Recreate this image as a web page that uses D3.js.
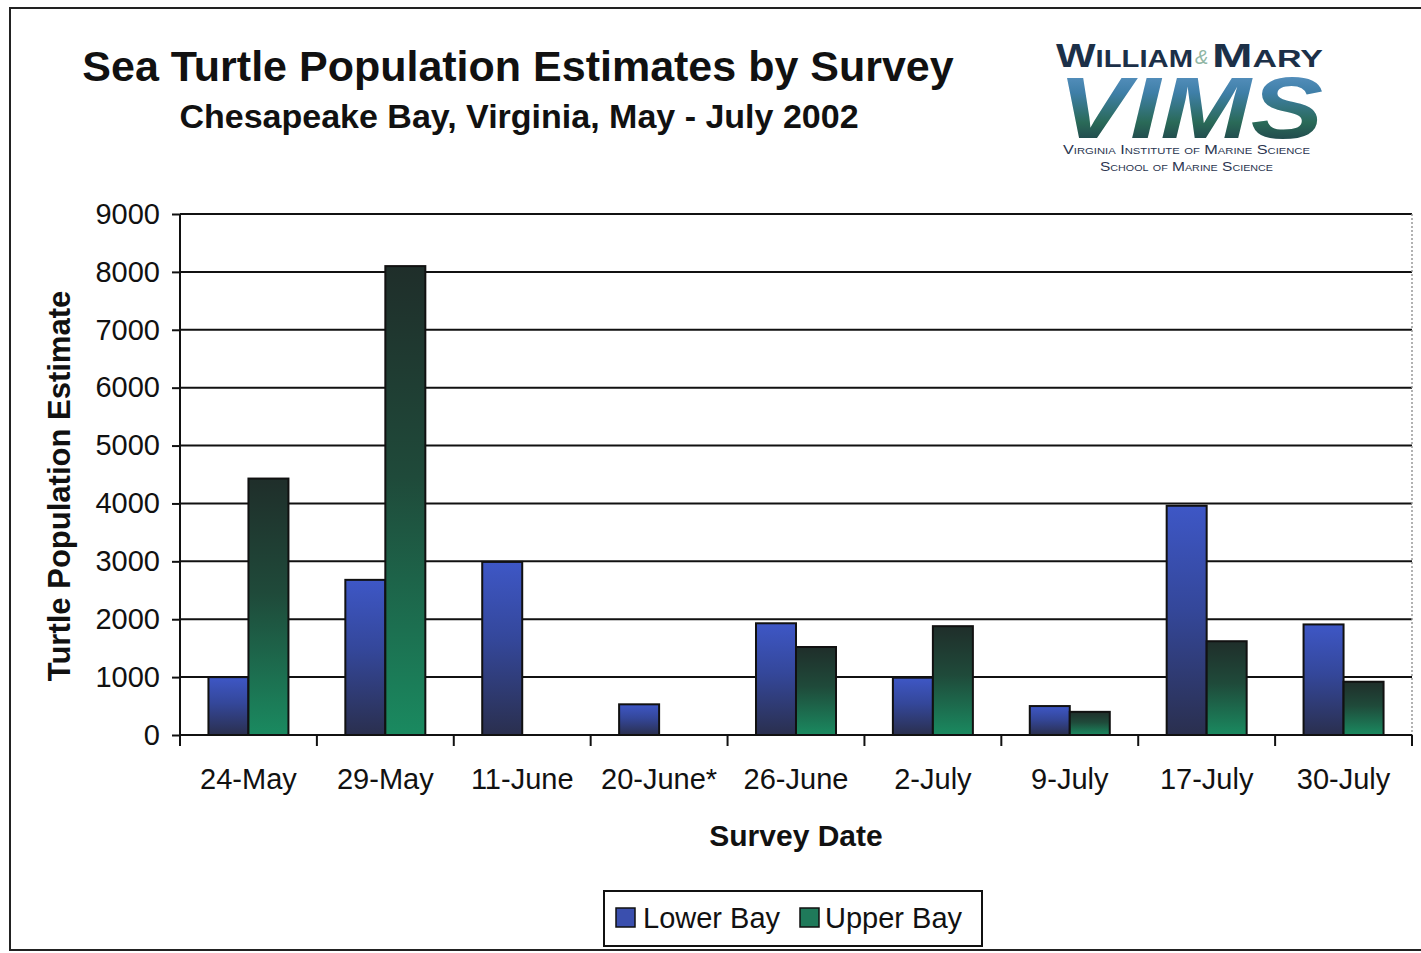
<!DOCTYPE html>
<html>
<head>
<meta charset="utf-8">
<script src="https://cdn.jsdelivr.net/npm/d3@7"></script>
<style>
  html, body { margin: 0; padding: 0; background: #fff; }
  svg { display: block; }
  text { font-family: Arial, "Liberation Sans", Helvetica, sans-serif; fill: #111; }
</style>
</head>
<body>
<svg id="chart" width="1421" height="953"></svg>
<script>
// ---- Data ----
const categories = ["24-May", "29-May", "11-June", "20-June*", "26-June", "2-July", "9-July", "17-July", "30-July"];
const seriesNames = ["Lower Bay", "Upper Bay"];
const lowerBay = [1000, 2680, 2990, 530, 1930, 990, 500, 3960, 1910];
const upperBay = [4430, 8100, 0, 0, 1520, 1880, 400, 1620, 920];
const yTicks = [0, 1000, 2000, 3000, 4000, 5000, 6000, 7000, 8000, 9000];

const titleText = "Sea Turtle Population Estimates by Survey";
const subtitleText = "Chesapeake Bay, Virginia, May - July 2002";
const xTitle = "Survey Date";
const yTitle = "Turtle Population Estimate";

(function () {
// ---- Layout ----
const svg = d3.select("#chart");
const pL = 180, pR = 1412, pT = 214, pB = 735;

const defs = svg.append("defs");
const gLow = defs.append("linearGradient").attr("id", "gLow").attr("x1", 0).attr("y1", 0).attr("x2", 0).attr("y2", 1);
gLow.append("stop").attr("offset", "0%").attr("stop-color", "#3e57c6");
gLow.append("stop").attr("offset", "45%").attr("stop-color", "#34479a");
gLow.append("stop").attr("offset", "100%").attr("stop-color", "#2a2f4e");
const gUp = defs.append("linearGradient").attr("id", "gUp").attr("x1", 0).attr("y1", 0).attr("x2", 0).attr("y2", 1);
gUp.append("stop").attr("offset", "0%").attr("stop-color", "#1f2e2a");
gUp.append("stop").attr("offset", "45%").attr("stop-color", "#1f4a3a");
gUp.append("stop").attr("offset", "100%").attr("stop-color", "#1a8a60");
const gLogo = defs.append("linearGradient").attr("id", "gLogo").attr("x1", 0).attr("y1", 0).attr("x2", 0).attr("y2", 1);
gLogo.append("stop").attr("offset", "0%").attr("stop-color", "#6a9fd0");
gLogo.append("stop").attr("offset", "35%").attr("stop-color", "#3f7fa8");
gLogo.append("stop").attr("offset", "65%").attr("stop-color", "#2a6a58");
gLogo.append("stop").attr("offset", "100%").attr("stop-color", "#1a2c44");

// Outer frame
svg.append("rect").attr("x", 10).attr("y", 8).attr("width", 1430).attr("height", 942)
  .attr("fill", "none").attr("stroke", "#222").attr("stroke-width", 2);

// Titles
svg.append("text").attr("x", 518).attr("y", 81).attr("text-anchor", "middle")
  .attr("font-size", 43).attr("font-weight", "bold").text(titleText);
svg.append("text").attr("x", 519).attr("y", 128).attr("text-anchor", "middle")
  .attr("font-size", 34).attr("font-weight", "bold").text(subtitleText);

// Logo
const logo = svg.append("g");
logo.append("text").attr("x", 1056).attr("y", 67)
  .attr("font-family", "'Liberation Serif', 'DejaVu Serif', serif")
  .attr("font-weight", "bold").attr("font-size", 33)
  .attr("textLength", 137).attr("lengthAdjust", "spacingAndGlyphs")
  .style("font-variant", "small-caps").style("fill", "#1c3048")
  .text("William");
logo.append("text").attr("x", 1195).attr("y", 64)
  .attr("font-family", "'Liberation Serif', serif").attr("font-style", "italic")
  .attr("font-size", 20).style("fill", "#8fb6a4").text("&");
logo.append("text").attr("x", 1212).attr("y", 67)
  .attr("font-family", "'Liberation Serif', 'DejaVu Serif', serif")
  .attr("font-weight", "bold").attr("font-size", 33)
  .attr("textLength", 111).attr("lengthAdjust", "spacingAndGlyphs")
  .style("font-variant", "small-caps").style("fill", "#1c3048")
  .text("Mary");
logo.append("text").attr("x", 1058).attr("y", 138)
  .attr("font-family", "'DejaVu Sans', 'Liberation Sans', sans-serif")
  .attr("font-weight", "bold").attr("font-style", "italic").attr("font-size", 88)
  .attr("textLength", 265).attr("lengthAdjust", "spacingAndGlyphs")
  .style("fill", "url(#gLogo)").text("VIMS");
logo.append("text").attr("x", 1063).attr("y", 154)
  .attr("font-family", "'Liberation Serif', serif").attr("font-size", 13)
  .attr("textLength", 247).attr("lengthAdjust", "spacingAndGlyphs")
  .style("font-variant", "small-caps").style("fill", "#2a3550")
  .text("Virginia Institute of Marine Science");
logo.append("text").attr("x", 1100).attr("y", 171)
  .attr("font-family", "'Liberation Serif', serif").attr("font-size", 13)
  .attr("textLength", 173).attr("lengthAdjust", "spacingAndGlyphs")
  .style("font-variant", "small-caps").style("fill", "#2a3550")
  .text("School of Marine Science");

// Scales
const x0 = d3.scaleBand().domain(categories).range([pL, pR]).padding(0);
const bw = x0.bandwidth();
const x1 = d3.scaleBand().domain(seriesNames).range([bw / 2 - 40, bw / 2 + 40]).padding(0);
const y = d3.scaleLinear().domain([0, 9000]).range([pB, pT]);

// Gridlines
svg.append("g").selectAll("line").data(yTicks.filter(d => d > 0)).join("line")
  .attr("x1", pL).attr("x2", pR).attr("y1", d => y(d)).attr("y2", d => y(d))
  .attr("stroke", "#111").attr("stroke-width", 2);
// right edge of plot (light dotted)
svg.append("line").attr("x1", pR).attr("x2", pR).attr("y1", pT).attr("y2", pB)
  .attr("stroke", "#999").attr("stroke-width", 1.5).attr("stroke-dasharray", "2,2");

// Bars
const rows = categories.map((c, i) => ({ cat: c, vals: [
  { key: "Lower Bay", v: lowerBay[i], fill: "url(#gLow)" },
  { key: "Upper Bay", v: upperBay[i], fill: "url(#gUp)" }] }));
const groups = svg.append("g").selectAll("g").data(rows).join("g")
  .attr("transform", d => `translate(${x0(d.cat)},0)`);
groups.selectAll("rect").data(d => d.vals.filter(v => v.v > 0)).join("rect")
  .attr("x", d => x1(d.key)).attr("width", x1.bandwidth())
  .attr("y", d => y(d.v)).attr("height", d => y(0) - y(d.v))
  .attr("fill", d => d.fill).attr("stroke", "#111").attr("stroke-width", 2);

// Y axis
const yAxis = svg.append("g").attr("transform", `translate(${pL},0)`)
  .call(d3.axisLeft(y).tickValues(yTicks).tickSize(8).tickPadding(12).tickFormat(d3.format("d")));
yAxis.selectAll("path, line").attr("stroke", "#111").attr("stroke-width", 2);
yAxis.select(".domain").attr("d", `M0,${pT}V${pB + 6}`);
yAxis.selectAll("text").attr("font-size", 29).attr("fill", "#111")
  .attr("font-family", "Arial, 'Liberation Sans', sans-serif");

// X axis: baseline + ticks at category boundaries
svg.append("line").attr("x1", pL).attr("x2", pR).attr("y1", pB).attr("y2", pB)
  .attr("stroke", "#111").attr("stroke-width", 2);
const bounds = categories.map(c => x0(c)).concat([pR]);
svg.append("g").selectAll("line").data(bounds).join("line")
  .attr("x1", d => d).attr("x2", d => d).attr("y1", pB).attr("y2", pB + 11)
  .attr("stroke", "#111").attr("stroke-width", 2);
const xAxis = svg.append("g").attr("transform", `translate(0,${pB})`)
  .call(d3.axisBottom(x0).tickSize(0).tickPadding(33));
xAxis.select(".domain").remove();
xAxis.selectAll("text").attr("font-size", 29).attr("fill", "#111")
  .attr("font-family", "Arial, 'Liberation Sans', sans-serif");

// Axis titles
svg.append("text").attr("x", 796).attr("y", 846).attr("text-anchor", "middle")
  .attr("font-size", 30).attr("font-weight", "bold").text(xTitle);
svg.append("text").attr("transform", "translate(70,486) rotate(-90)").attr("text-anchor", "middle")
  .attr("font-size", 31).attr("font-weight", "bold").text(yTitle);

// Legend
const lg = svg.append("g");
lg.append("rect").attr("x", 604).attr("y", 891).attr("width", 378).attr("height", 55)
  .attr("fill", "#fff").attr("stroke", "#111").attr("stroke-width", 2);
const legendItems = [
  { name: seriesNames[0], sx: 616, tx: 643, fill: "#3a4fae" },
  { name: seriesNames[1], sx: 800, tx: 825, fill: "#1f7a5a" }];
legendItems.forEach(it => {
  lg.append("rect").attr("x", it.sx).attr("y", 908).attr("width", 19).attr("height", 19)
    .attr("fill", it.fill).attr("stroke", "#111").attr("stroke-width", 1.5);
  lg.append("text").attr("x", it.tx).attr("y", 928).attr("font-size", 29).text(it.name);
});
})();
</script>
</body>
</html>
